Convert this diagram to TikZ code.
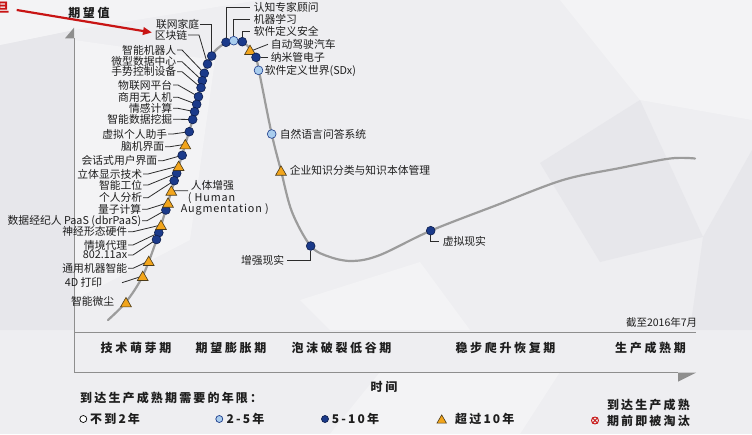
\documentclass[tikz,border=0pt]{standalone}
\usepackage{fontspec}
\setmainfont{Noto Sans CJK SC}
\newfontfamily\spacedcjk[LetterSpace=22]{Noto Sans CJK SC}
\newfontfamily\legcjk[LetterSpace=18]{Noto Sans CJK SC}
\newfontfamily\latspaced[LetterSpace=8]{Noto Sans CJK SC}
\usetikzlibrary{arrows.meta,shapes.geometric}
\newcommand\labfont{\fontsize{10.8}{11}\selectfont}
\newcommand\phasefont{\spacedcjk\bfseries\fontsize{12}{12}\selectfont}
\newcommand\legfont{\legcjk\bfseries\fontsize{12}{12}\selectfont}
\definecolor{bgbase}{HTML}{EEEEF1}
\definecolor{bgdark}{HTML}{E7E7EB}
\definecolor{bglight}{HTML}{F3F3F5}
\definecolor{axisc}{HTML}{8E8E8E}
\definecolor{curvec}{HTML}{9C9C9C}
\definecolor{dkblue}{HTML}{1B3A8A}
\definecolor{dkedge}{HTML}{0E1F4E}
\definecolor{ltblue}{HTML}{A9CDEE}
\definecolor{orng}{HTML}{F2A51C}
\definecolor{triedge}{HTML}{4A3A1A}
\definecolor{ldr}{HTML}{2B2B2B}
\definecolor{txtc}{HTML}{1E1E1E}
\definecolor{redc}{HTML}{C81414}
\begin{document}
\begin{tikzpicture}[x=1pt,y=-1pt,
  lab/.style={font=\labfont, inner sep=0.6pt, text=txtc},
  phase/.style={font=\phasefont, inner sep=0, text=txtc},
  leg/.style={font=\legfont, inner sep=0, text=txtc},
  dk/.style={circle, draw=dkedge, fill=dkblue, line width=0.6pt, minimum size=8.8pt, inner sep=0},
  lt/.style={circle, draw=dkblue, fill=ltblue, line width=0.6pt, minimum size=8.8pt, inner sep=0},
  tri/.style={regular polygon, regular polygon sides=3, draw=triedge, fill=orng, line width=0.6pt, minimum size=12.5pt, inner sep=0, yshift=-1.4pt},
  leader/.style={draw=ldr, line width=0.8pt},
  axis/.style={draw=axisc, line width=1pt},
  curve/.style={draw=curvec, line width=2.2pt, line cap=round}]
\useasboundingbox (0,0) rectangle (752,434);
% background
\fill[bgbase] (0,0) rectangle (752,434);
\fill[bgdark] (0,45) -- (74,30) -- (74,330) -- (0,330) -- cycle;
\fill[bglight] (0,0) -- (260,0) -- (74,30) -- (0,45) -- cycle;
\fill[bglight] (74,40) -- (215,60) -- (190,240) -- (74,300) -- cycle;
\fill[bglight] (560,0) -- (752,0) -- (752,120) -- (640,100) -- cycle;
\fill[bgdark] (540,163) -- (640,100) -- (703,237) -- (600,262) -- cycle;
\fill[bgdark] (703,237) -- (752,150) -- (752,330) -- (690,330) -- cycle;
\fill[bglight] (300,300) -- (420,262) -- (470,330) -- (330,330) -- cycle;
\fill[bglight] (380,372) -- (560,372) -- (520,434) -- (330,434) -- cycle;
% red annotation
\node[text=redc, font=\bfseries\fontsize{13}{13}\selectfont, inner sep=0, anchor=east] (redtxt) at (9.5,8) {旦};
\coordinate (ra1) at (16.7,10);
\coordinate (ra2) at (152,32.5);
\draw[redc, line width=2.2pt, -{Triangle[length=9pt,width=7.5pt]}] (ra1) -- (ra2);
% axes
\coordinate (ytop) at (74,38.3);
\coordinate (ybot) at (74,372.7);
\coordinate (xend) at (678,372.7);
\coordinate (bl) at (74,332.3);
\coordinate (br) at (696,332.3);
\draw[axis] (ytop) -- (ybot) -- (xend);
\draw[axis] (bl) -- (br);
\fill[axisc] (74,27.7) -- (65,38.3) -- (74,38.3) -- cycle;
\fill[axisc] (678,372.7) -- (696,372.7) -- (678,381.7) -- cycle;
\node[font=\phasefont, inner sep=0, text=txtc] (yl) at (89,13) {期望值};
\node[font=\phasefont, inner sep=0, text=txtc] (xl) at (384,387) {时间};
% curve
\draw[curve] plot[smooth, tension=0.55] coordinates {
 (108,320) (126,302) (142.7,276) (156.7,239.5) (165.7,210) (176.7,173.3)
 (185.3,144.3) (192.7,119.5) (201,87.7) (207.5,64) (215,51) (226,42.5)
 (234,40.3) (242.3,41.7) (250,48.5) (256,58) (260,76) (271.7,134)
 (281,170.7) (292,212) (310.7,246) (330,257) (353,261) (380,255)
 (430.7,230.7) (497,205) (563,180) (620,168) (670,158.5) (695,158.5)};
% left labels
\node[lab,anchor=east] (l1) at (200,24) {联网家庭};
\node[lab,anchor=east] (l2) at (188,35) {区块链};
\node[lab,anchor=east] (l3) at (177,50) {智能机器人};
\node[lab,anchor=east] (l4) at (177,61.7) {微型数据中心};
\node[lab,anchor=east] (l5) at (177,71.7) {手势控制设备};
\node[lab,anchor=east] (l6) at (173,85) {物联网平台};
\node[lab,anchor=east] (l7) at (173,97.3) {商用无人机};
\node[lab,anchor=east] (l8) at (173,108.3) {情感计算};
\node[lab,anchor=east] (l9) at (173,119.3) {智能数据挖掘};
\node[lab,anchor=east] (l10) at (168,134) {虚拟个人助手};
\node[lab,anchor=east] (l11) at (165,146.7) {脑机界面};
\node[lab,anchor=east] (l12) at (158,160.7) {会话式用户界面};
\node[lab,anchor=east] (l13) at (143,174) {立体显示技术};
\node[lab,anchor=east] (l14) at (143,185) {智能工位};
\node[lab,anchor=east] (l15) at (143,197.7) {个人分析};
\node[lab,anchor=east] (l16) at (142,209.3) {量子计算};
\node[lab,anchor=east] (l17) at (142,220.7) {数据经纪人 PaaS (dbrPaaS)};
\node[lab,anchor=east] (l18) at (128,231.7) {神经形态硬件};
\node[lab,anchor=east] (l19) at (128,245) {情境代理};
\node[lab,anchor=east] (l20) at (128,255) {802.11ax};
\node[lab,anchor=east] (l21) at (128,268.3) {通用机器智能};
\node[lab,anchor=east] (l22) at (103,282.7) {4D 打印};
\node[lab,anchor=east] (l23) at (115,301.7) {智能微尘};
% human augmentation
\node[lab,anchor=west] (h1) at (190,185) {人体增强};
\node[lab,anchor=west,font=\latspaced\labfont] (h2) at (187,198.3) {( Human};
\node[lab,anchor=west,font=\latspaced\labfont] (h3) at (180,209) {Augmentation )};
% right labels
\node[lab,anchor=west] (r1) at (253,7.5) {认知专家顾问};
\node[lab,anchor=west] (r2) at (253,19.3) {机器学习};
\node[lab,anchor=west] (r3) at (253,31.7) {软件定义安全};
\node[lab,anchor=west] (r4) at (270,44.3) {自动驾驶汽车};
\node[lab,anchor=west] (r5) at (270,57.3) {纳米管电子};
\node[lab,anchor=west] (r6) at (264,71) {软件定义世界(SDx)};
\node[lab,anchor=west] (r7) at (279,134) {自然语言问答系统};
\node[lab,anchor=west] (r8) at (289,170.7) {企业知识分类与知识本体管理};
\node[lab,anchor=east] (r9) at (285,260) {增强现实};
\node[lab,anchor=west] (r10) at (442,241) {虚拟现实};
% marker coordinates (left side)
\coordinate (p1) at (211.7,56);
\coordinate (p2) at (207.5,64);
\coordinate (p3) at (204.3,73.3);
\coordinate (p4) at (202.3,80.7);
\coordinate (p5) at (201,87.7);
\coordinate (p6) at (198.5,96.7);
\coordinate (p7) at (196.7,104.3);
\coordinate (p8) at (194.6,111.7);
\coordinate (p9) at (192.7,119.5);
\coordinate (p10) at (189.3,131.7);
\coordinate (p11) at (185.3,144.3);
\coordinate (p12) at (182.2,155.3);
\coordinate (p13) at (178.6,166);
\coordinate (p14) at (176.7,173.3);
\coordinate (p15) at (174.2,180.7);
\coordinate (pH) at (171.3,190.7);
\coordinate (p16) at (168,202.7);
\coordinate (p17) at (165.9,210);
\coordinate (p18) at (161,225);
\coordinate (p19) at (158.8,232.7);
\coordinate (p20) at (156.5,239.5);
\coordinate (p21) at (148.7,261);
\coordinate (p22) at (142.7,276);
\coordinate (p23) at (126,302.3);
% leaders (left)
\draw[leader] (l1.east) -- (p1 |- l1.east) -- (p1);
\draw[leader] (l2.east) -- ++(11,0) -- (p2);
\foreach \i in {3,...,21}{
  \draw[leader] (l\i.east) -- ++(5,0) -- (p\i);
}
\coordinate (c22) at (122,282.7);
\draw[leader] (c22) -- (p22);
\draw[leader] (pH) -- ([xshift=-2pt]h1.south west);
% markers (left)
\foreach \i in {1,...,10,12,14,15,17,19,20}{
  \node[dk] (m\i) at (p\i) {};
}
\foreach \i in {11,13,16,18,21,22,23}{
  \node[tri] (m\i) at (p\i) {};
}
\node[tri] (mH) at (pH) {};
% right markers
\node[dk] (n1) at (226,42.3) {};
\node[lt] (n2) at (233.7,40.7) {};
\node[dk] (n3) at (242.3,41.7) {};
\node[tri] (n4) at (250,50) {};
\node[dk] (n5) at (256,57.3) {};
\node[lt] (n6) at (258.5,70.3) {};
\node[lt] (n7) at (271.7,134) {};
\node[tri] (n8) at (281,170.7) {};
\node[dk] (n9) at (310.7,246) {};
\node[dk] (n10) at (430.7,230.7) {};
% right leaders
\draw[leader] (n1) |- ([xshift=-3pt]r1.west);
\draw[leader] (n2) |- ([xshift=-3pt]r2.west);
\draw[leader] (n3) |- ([xshift=-3pt]r3.west);
\draw[leader] (n4) -- ([xshift=-2pt]r4.west);
\draw[leader] (n5) -- ([xshift=-2pt]r5.west);
\draw[leader] ([xshift=2pt]r9.east) -| (n9);
\draw[leader] (n10) |- ([xshift=-3pt]r10.west);
% phase box labels
\node[phase] (ph1) at (136,348.3) {技术萌芽期};
\node[phase] (ph2) at (231,348.3) {期望膨胀期};
\node[phase] (ph3) at (341.5,348.3) {泡沫破裂低谷期};
\node[phase] (ph4) at (505.5,348.3) {稳步爬升恢复期};
\node[phase] (ph5) at (650.5,348.3) {生产成熟期};
\node[lab,anchor=east,font=\fontsize{10.5}{11}\selectfont] (date) at (698,322) {截至2016年7月};
% legend
\node[leg,anchor=west] (lg0) at (80,397.5) {到达生产成熟期需要的年限：};
\node[circle, draw=black, fill=white, line width=0.7pt, minimum size=7pt, inner sep=0] (s1) at (83.3,419) {};
\node[leg,anchor=west] (t1) at (90,419) {不到2年};
\node[circle, draw=dkblue, fill=ltblue, line width=0.7pt, minimum size=7pt, inner sep=0] (s2) at (219.3,419) {};
\node[leg,anchor=west] (t2) at (226.5,419) {2-5年};
\node[circle, draw=dkedge, fill=dkblue, line width=0.7pt, minimum size=7pt, inner sep=0] (s3) at (325,419) {};
\node[leg,anchor=west] (t3) at (331.7,419) {5-10年};
\node[tri, minimum size=11pt] (s4) at (441.7,419) {};
\node[leg,anchor=west] (t4) at (455,419) {超过10年};
\node[leg,anchor=east] (t5a) at (690,404.5) {到达生产成熟};
\node[leg,anchor=east] (t5b) at (690,420.5) {期前即被淘汰};
\node[circle, draw=redc, line width=0.9pt, minimum size=7pt, inner sep=0] (s5) at (595,420.5) {};
\draw[redc, line width=0.8pt] (s5.45) -- (s5.225);
\draw[redc, line width=0.8pt] (s5.135) -- (s5.315);
\end{tikzpicture}
\end{document}
